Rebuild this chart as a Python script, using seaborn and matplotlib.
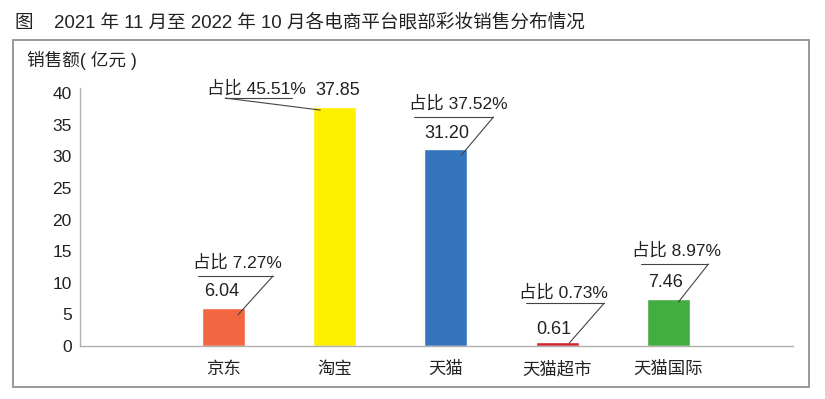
import matplotlib.pyplot as plt
import seaborn as sns
from matplotlib.patches import Rectangle

# data
platforms = ["京东", "淘宝", "天猫", "天猫超市", "天猫国际"]
sales = [6.04, 37.85, 31.20, 0.61, 7.46]
shares = ["7.27%", "45.51%", "37.52%", "0.73%", "8.97%"]
colors = ["#F26641", "#FFF000", "#3575BE", "#D2232E", "#41AE3F"]

# label placement, pixel offsets from each bar's top centre (up is positive)
share_pos = [(13.5, 45), (-78, 18.6), (12.5, 45.7), (6, 50), (8, 48.8)]
value_pos = [(-1.5, 16), (2.5, 16.6), (0.5, 15.7), (-3, 13), (-3, 16.8)]
underline = [(-25.5, 49.5, 31.8), (-109.5, -42.5, 8.6), (-31.5, 47.5, 31.7),
             (-31, 47, 39), (-27, 40, 34.8)]
leader_from_right = [True, False, True, True, True]
leader_end = [(14.5, -7), (-14.5, -3.4), (15.5, -6.3), (12, -1), (10, -3.2)]

sns.set_theme(style="white")
plt.rcParams["font.family"] = ["Liberation Sans", "Noto Sans CJK SC", "DejaVu Sans"]
TXT = "#222222"

W, H = 825, 399
fig = plt.figure(figsize=(W / 100, H / 100), dpi=100)
ax_l, ax_r, ax_b, ax_t = 80, 793, 346, 88
ax = fig.add_axes([ax_l / W, 1 - ax_b / H, (ax_r - ax_l) / W, (ax_b - ax_t) / H])

sns.barplot(x=platforms, y=sales, hue=platforms, palette=colors, legend=False,
            width=0.386, saturation=1, ax=ax)

x0, x1 = -1.29, 5.12
y0, y1 = 0, 40.8
ax.set_xlim(x0, x1)
ax.set_ylim(y0, y1)
sx = (x1 - x0) / (ax_r - ax_l)
sy = (y1 - y0) / (ax_b - ax_t)

ax.set_yticks(range(0, 41, 5))
ax.tick_params(axis="y", length=0, pad=6, labelsize=12.5, labelcolor=TXT)
ax.tick_params(axis="x", length=0, pad=11, labelsize=12.5, labelcolor=TXT)
ax.set_xlabel("")
ax.set_ylabel("")
for s in ["top", "right"]:
    ax.spines[s].set_visible(False)
for s in ["left", "bottom"]:
    ax.spines[s].set_color("#b0b0b0")
    ax.spines[s].set_linewidth(1.0)

for i, v in enumerate(sales):
    def pt(dx, dy):
        return i + dx * sx, v + dy * sy
    tx, ty = pt(*share_pos[i])
    ax.text(tx, ty, "占比 " + shares[i], ha="center", va="center",
            fontsize=12.5, color=TXT)
    vx, vy = pt(*value_pos[i])
    ax.text(vx, vy, f"{v:.2f}", ha="center", va="center", fontsize=13, color=TXT)
    ua, ub, uy = underline[i]
    ax.plot([pt(ua, uy)[0], pt(ub, uy)[0]], [pt(ua, uy)[1]] * 2,
            color="#444444", lw=0.8, clip_on=False)
    start = pt(ub if leader_from_right[i] else ua, uy)
    end = pt(*leader_end[i])
    ax.plot([start[0], end[0]], [start[1], end[1]], color="#444444", lw=0.8,
            clip_on=False)

fig.text(15 / W, 1 - 22 / H, "图    2021 年 11 月至 2022 年 10 月各电商平台眼部彩妆销售分布情况",
         ha="left", va="center", fontsize=13.4, color=TXT)
fig.text(27 / W, 1 - 60 / H, "销售额( 亿元 )", ha="left", va="center",
         fontsize=12.7, color=TXT)
fig.patches.append(Rectangle((13 / W, 1 - 387 / H), (809 - 13) / W, (387 - 40) / H,
                             transform=fig.transFigure, fill=False,
                             edgecolor="#999999", lw=1.4))

fig.savefig("out.png", dpi=100)
